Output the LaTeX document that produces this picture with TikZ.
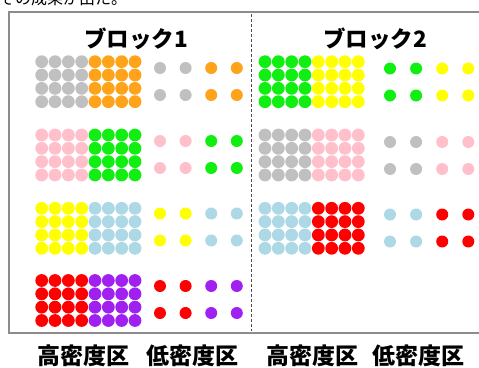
\documentclass[tikz,border=0pt]{standalone}
\usepackage{fontspec}
\newfontfamily\jp{Noto Sans CJK JP}
\definecolor{csilver}{HTML}{C0C0C0}
\definecolor{corange}{HTML}{FFA31A}
\definecolor{clime}{HTML}{11EE11}
\definecolor{cyellow}{HTML}{FFFF00}
\definecolor{cpink}{HTML}{FFC0CB}
\definecolor{clblue}{HTML}{ADD8E6}
\definecolor{cred}{HTML}{FF0000}
\definecolor{cpurple}{HTML}{A020F0}
\definecolor{framecol}{HTML}{8C8C8C}
\newcommand{\hdgrid}[4]{% x0, y0, colA, colB
  \foreach \r in {0,...,3}{
    \foreach \k in {0,...,3}{
      \fill[#3] ({#1+13.33*\k},{#2+13.33*\r}) circle (6.4);
      \fill[#4] ({#1+13.33*(\k+4)},{#2+13.33*\r}) circle (6.4);
    }
  }%
}
\newcommand{\ldgrid}[5]{% x0, yc, dx, colA, colB
  \foreach \r in {-1,1}{
    \fill[#4] ({#1},{#2+13.5*\r}) circle (6);
    \fill[#4] ({#1+#3},{#2+13.5*\r}) circle (6);
    \fill[#5] ({#1+2*#3},{#2+13.5*\r}) circle (6);
    \fill[#5] ({#1+3*#3},{#2+13.5*\r}) circle (6);
  }%
}
\begin{document}
\begin{tikzpicture}[x=1pt,y=-1pt,
  title/.style={font=\jp\bfseries\fontsize{22.5}{22.5}\selectfont, inner sep=0},
  zone/.style={font=\jp\bfseries\fontsize{23}{23}\selectfont, inner sep=0}]
\useasboundingbox (0,0) rectangle (479,367);
\fill[white] (0,0) rectangle (479,367);
\node[anchor=base west, font=\jp\fontsize{16}{16}\selectfont, inner sep=0] (cap) at (-1,4.5) {その成果が出た。};
\draw[framecol, line width=2] (9,12) rectangle (495,333);
\coordinate (dtop) at (251,14);
\coordinate (dbot) at (251,331);
\draw[black!70, line width=0.9, dash pattern=on 3 off 2] (dtop) -- (dbot);
\node[title] (t1) at (136,38.5) {ブロック1};
\node[title] (t2) at (375,38.5) {ブロック2};
% block 1
\hdgrid{41.7}{61.7}{csilver}{corange}
\ldgrid{160}{81.5}{25.6}{csilver}{corange}
\hdgrid{41.7}{135}{cpink}{clime}
\ldgrid{160}{154.5}{25.6}{cpink}{clime}
\hdgrid{41.7}{208.3}{cyellow}{clblue}
\ldgrid{160}{227}{25.6}{cyellow}{clblue}
\hdgrid{41.7}{280.5}{cred}{cpurple}
\ldgrid{160}{299.5}{25.6}{cred}{cpurple}
% block 2
\hdgrid{265}{61.7}{clime}{cyellow}
\ldgrid{390}{82}{26.1}{clime}{cyellow}
\hdgrid{265}{135}{csilver}{cpink}
\ldgrid{390}{155.5}{26.1}{csilver}{cpink}
\hdgrid{265}{208.3}{clblue}{cred}
\ldgrid{390}{228}{26.1}{clblue}{cred}
% bottom labels
\node[zone] (h1) at (83,356) {高密度区};
\node[zone] (l1) at (192,356) {低密度区};
\node[zone] (h2) at (312,356) {高密度区};
\node[zone] (l2) at (418,356) {低密度区};
\end{tikzpicture}
\end{document}
